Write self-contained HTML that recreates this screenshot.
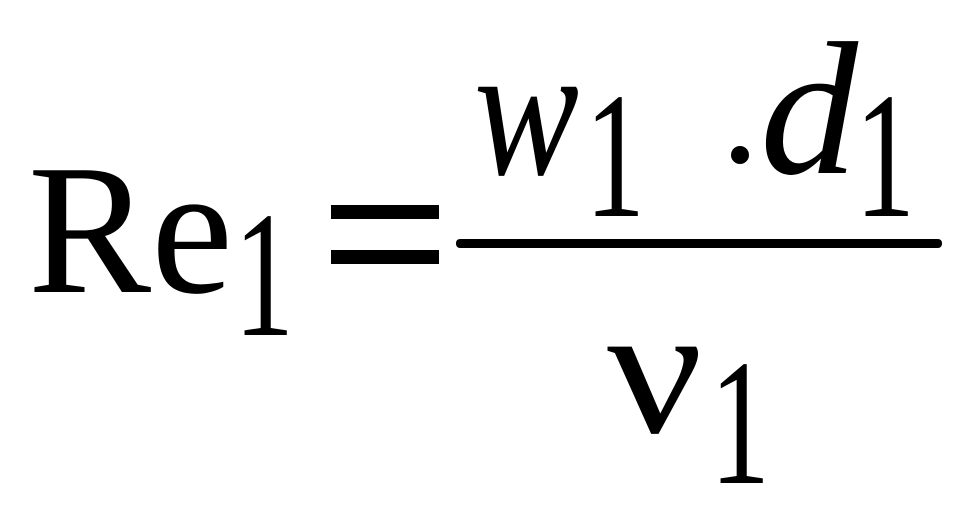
<!DOCTYPE html>
<html><head><meta charset="utf-8"><style>
html,body{margin:0;padding:0;background:#fff;width:967px;height:517px;overflow:hidden}
svg{display:block}
text{font-family:"Liberation Serif",serif;fill:#000}
</style></head><body>
<svg width="967" height="517" viewBox="0 0 967 517">
<text x="28" y="292" font-size="186" textLength="205" lengthAdjust="spacingAndGlyphs">Re</text>
<text x="234" y="335" font-size="180" textLength="60" lengthAdjust="spacingAndGlyphs">1</text>
<rect x="331" y="205" width="108" height="14" />
<rect x="331" y="250" width="108" height="14" />
<rect x="456" y="239" width="486" height="9" rx="4"/>
<text x="474" y="174" font-size="190" font-style="italic" textLength="105" lengthAdjust="spacingAndGlyphs">w</text>
<text x="585" y="216" font-size="180" textLength="60" lengthAdjust="spacingAndGlyphs">1</text>
<circle cx="740" cy="155" r="9"/>
<text x="760" y="173" font-size="190" font-style="italic" textLength="98" lengthAdjust="spacingAndGlyphs">d</text>
<text x="855" y="216" font-size="180" textLength="60" lengthAdjust="spacingAndGlyphs">1</text>
<text x="607" y="432" font-size="186" textLength="96" lengthAdjust="spacingAndGlyphs">ν</text>
<text x="710" y="483" font-size="180" textLength="60" lengthAdjust="spacingAndGlyphs">1</text>
</svg>
</body></html>
